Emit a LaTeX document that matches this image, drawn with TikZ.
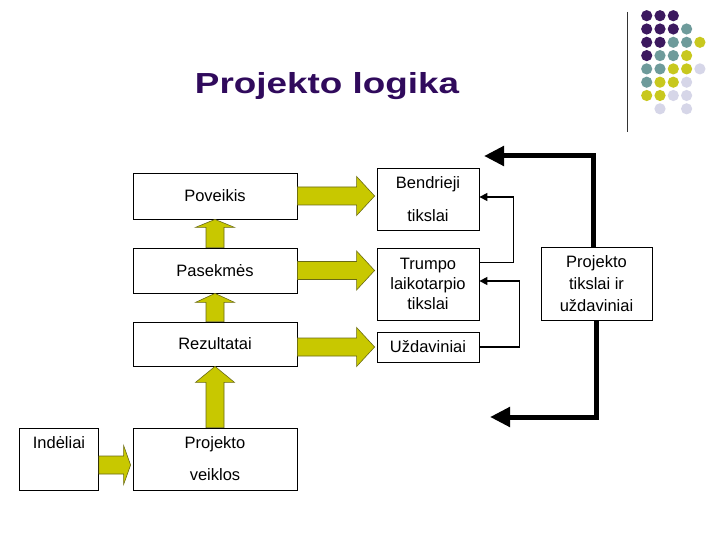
\documentclass[tikz,border=0pt]{standalone}
\usepackage{fontspec}
\usepackage{graphicx}
\setmainfont{Liberation Sans}
\usetikzlibrary{arrows.meta,calc}

\definecolor{titlepurple}{RGB}{48,10,92}
\definecolor{olivefill}{RGB}{200,200,0}
\definecolor{oliveline}{RGB}{105,105,20}
\definecolor{dotpurple}{RGB}{60,25,95}
\definecolor{dotteal}{RGB}{110,155,155}
\definecolor{dotyellow}{RGB}{200,200,30}
\definecolor{dotlilac}{RGB}{214,214,232}

% fat yellow arrow to the right: from, to, head length, shift
\newcommand\fatright[4]{%
  \filldraw[fat] let \p1=([yshift=#4]#1.east), \p2=(#2.west) in
    (\x1,\y1+9pt) -- (\x2-#3,\y1+9pt) -- (\x2-#3,\y1+19.5pt) -- (\x2-2pt,\y1)
    -- (\x2-#3,\y1-19.5pt) -- (\x2-#3,\y1-9pt) -- (\x1,\y1-9pt) -- cycle;}
% fat yellow arrow upwards: from, to, head length
\newcommand\fatup[3]{%
  \filldraw[fat] let \p1=(#1.north), \p2=(#2.south) in
    (\x1-9pt,\y1) -- (\x1-9pt,\y2-#3) -- (\x1-19.5pt,\y2-#3) -- (\x1,\y2)
    -- (\x1+19.5pt,\y2-#3) -- (\x1+9pt,\y2-#3) -- (\x1+9pt,\y1) -- cycle;}

\begin{document}
\begin{tikzpicture}[x=1pt,y=-1pt,>=Stealth,font=\fontsize{16.5}{20}\selectfont]
\tikzstyle{bx}=[draw,line width=0.8pt,rectangle,align=center,inner sep=0pt]
\tikzstyle{fat}=[fill=olivefill,draw=oliveline,line width=0.6pt]
\tikzstyle{fb}=[line width=5pt,-{Triangle[length=20pt,width=19pt]}]
\tikzstyle{thin}=[line width=1.3pt,-{Triangle[length=8pt,width=8pt]}]
\useasboundingbox[fill=white] (0,0) rectangle (720,540);

% corner decoration
\draw[line width=1.2pt,black!80] (627.5,12) -- (627.5,132);
\foreach \c/\r/\col in {0/0/dotpurple,1/0/dotpurple,2/0/dotpurple,
  0/1/dotpurple,1/1/dotpurple,2/1/dotpurple,3/1/dotteal,
  0/2/dotpurple,1/2/dotpurple,2/2/dotteal,3/2/dotteal,4/2/dotyellow,
  0/3/dotpurple,1/3/dotteal,2/3/dotteal,3/3/dotyellow,
  0/4/dotteal,1/4/dotteal,2/4/dotyellow,3/4/dotyellow,4/4/dotlilac,
  0/5/dotteal,1/5/dotyellow,2/5/dotyellow,3/5/dotlilac,
  0/6/dotyellow,1/6/dotyellow,2/6/dotlilac,3/6/dotlilac,
  1/7/dotlilac,3/7/dotlilac}
  \fill[\col] (646.7+13.3*\c,15.7+13.3*\r) circle (5.6);

\node[anchor=base,text=titlepurple,font=\bfseries\fontsize{29}{34}\selectfont] (title) at (327,94)
  {\scalebox{1.27}[1]{Projekto logika}};

% left column
\node[bx,minimum width=164,minimum height=46] (pov) at (215,196) {Poveikis};
\node[bx,minimum width=164,minimum height=45] (pas) at (215,270.5) {Pasekmės};
\node[bx,minimum width=164,minimum height=44] (rez) at (215,344) {Rezultatai};
\node[bx,minimum width=164,minimum height=62] (proj) at (215,459) {Projekto\\[12pt]veiklos};
\node[bx,minimum width=79,minimum height=62] (ind) at (59,459) {Indėliai\\[12pt]\mbox{}};

% right column
\node[bx,minimum width=102,minimum height=62] (bend) at (428,199) {Bendrieji\\[13pt]tikslai};
\node[bx,minimum width=102,minimum height=72] (trum) at (428,284) {Trumpo\\laikotarpio\\tikslai};
\node[bx,minimum width=102,minimum height=30] (uzd) at (428,347) {Uždaviniai};
\node[bx,minimum width=111,minimum height=73] (ptik) at (596.5,283.5)
  {Projekto\\[1.7pt]tikslai ir\\[1.7pt]uždaviniai};

\fatright{pov}{bend}{20pt}{0pt}
\fatright{pas}{trum}{20pt}{0pt}
\fatright{rez}{uzd}{20pt}{-3pt}
\fatright{ind}{proj}{9pt}{-6pt}
\fatup{pas}{pov}{8pt}
\fatup{rez}{pas}{9pt}
\fatup{proj}{rez}{16pt}

% feedback
\coordinate (topend) at (484,156);
\coordinate (botend) at (490,417);
\draw[fb] ([xshift=-3pt]ptik.north) |- (topend);
\draw[fb] (ptik.south) |- (botend);
\draw[thin] ($(trum.north east)+(0,15)$) -- ++(34,0) |- ([yshift=2pt]bend.east);
\draw[thin] (uzd.east) -- ++(40,0) |- ([yshift=3pt]trum.east);
\end{tikzpicture}
\end{document}
